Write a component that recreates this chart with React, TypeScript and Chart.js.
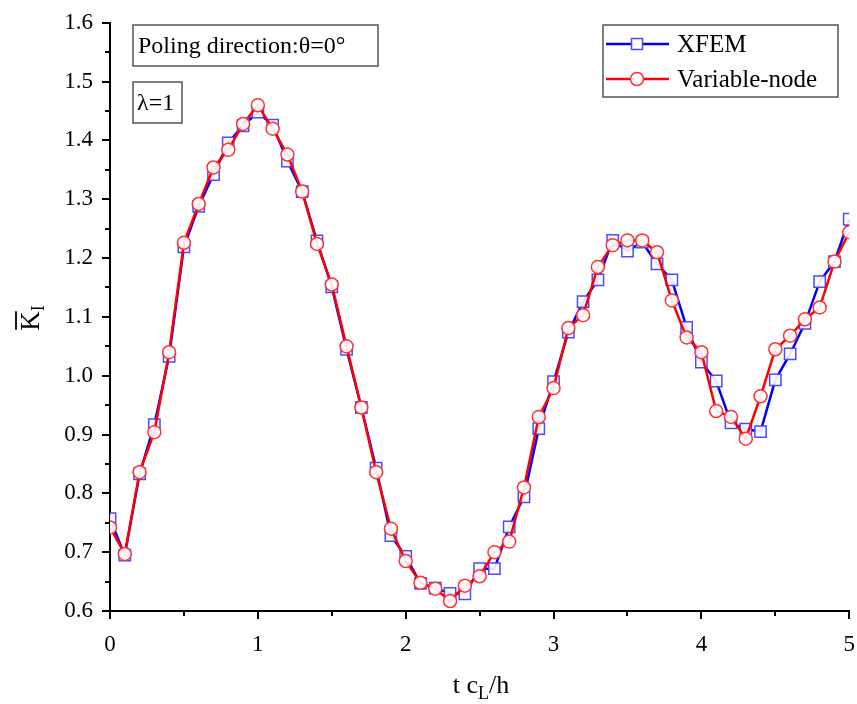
import React, { useEffect, useRef } from "react";
import { Chart, registerables } from "chart.js";

Chart.register(...registerables);

const tValues = [
  0, 0.1, 0.2, 0.3, 0.4, 0.5, 0.6, 0.7, 0.8, 0.9,
  1.0, 1.1, 1.2, 1.3, 1.4, 1.5, 1.6, 1.7, 1.8, 1.9,
  2.0, 2.1, 2.2, 2.3, 2.4, 2.5, 2.6, 2.7, 2.8, 2.9,
  3.0, 3.1, 3.2, 3.3, 3.4, 3.5, 3.6, 3.7, 3.8, 3.9,
  4.0, 4.1, 4.2, 4.3, 4.4, 4.5, 4.6, 4.7, 4.8, 4.9, 5.0,
];

const xfemValues = [
  0.757, 0.695, 0.833, 0.917, 1.033, 1.219, 1.288, 1.342, 1.396, 1.425,
  1.448, 1.426, 1.365, 1.313, 1.229, 1.151, 1.045, 0.946, 0.843, 0.728,
  0.693, 0.647, 0.639, 0.630, 0.629, 0.672, 0.672, 0.743, 0.794, 0.910,
  0.990, 1.074, 1.126, 1.163, 1.230, 1.212, 1.227, 1.190, 1.163, 1.082,
  1.023, 0.991, 0.920, 0.909, 0.905, 0.993, 1.037, 1.089, 1.160, 1.194, 1.266,
];

const variableNodeValues = [
  0.742, 0.697, 0.836, 0.904, 1.040, 1.226, 1.292, 1.354, 1.384, 1.428,
  1.460, 1.420, 1.376, 1.313, 1.224, 1.155, 1.050, 0.946, 0.836, 0.740,
  0.685, 0.648, 0.638, 0.617, 0.643, 0.659, 0.700, 0.718, 0.810, 0.930,
  0.979, 1.081, 1.103, 1.185, 1.222, 1.230, 1.230, 1.210, 1.128, 1.065,
  1.040, 0.940, 0.930, 0.893, 0.965, 1.045, 1.068, 1.096, 1.116, 1.194, 1.244,
];

const xTickValues = [0, 1, 2, 3, 4, 5];
const yTickValues = [0.6, 0.7, 0.8, 0.9, 1.0, 1.1, 1.2, 1.3, 1.4, 1.5, 1.6];
const xMinorTicks = [0.5, 1.5, 2.5, 3.5, 4.5];
const yMinorTicks = [0.65, 0.75, 0.85, 0.95, 1.05, 1.15, 1.25, 1.35, 1.45, 1.55];

const seriesNames = ["XFEM", "Variable-node"];
const annotationTexts = ["Poling direction:θ=0°", "λ=1"];

const BLUE = "#0000ff";
const BLUE_MARK = "#4a4aff";
const RED = "#ff0000";
const RED_MARK = "#ff3333";
const SERIF = "'Liberation Serif', 'DejaVu Serif', serif";

const decorPlugin = {
  id: "decor",
  afterDraw(chart: any) {
    const ctx = chart.ctx as CanvasRenderingContext2D;
    const area = chart.chartArea;
    const xs = chart.scales.x;
    const ys = chart.scales.y;
    ctx.save();
    // minor ticks
    ctx.strokeStyle = "#000";
    ctx.lineWidth = 2;
    ctx.beginPath();
    yMinorTicks.forEach((v) => {
      const py = Math.round(ys.getPixelForValue(v));
      ctx.moveTo(area.left - 5, py);
      ctx.lineTo(area.left, py);
    });
    xMinorTicks.forEach((v) => {
      const px = Math.round(xs.getPixelForValue(v));
      ctx.moveTo(px, area.bottom);
      ctx.lineTo(px, area.bottom + 5);
    });
    ctx.stroke();

    // annotation boxes
    ctx.strokeStyle = "#555";
    ctx.lineWidth = 1.5;
    ctx.fillStyle = "#000";
    ctx.textBaseline = "middle";
    ctx.textAlign = "left";
    ctx.font = `24px ${SERIF}`;
    ctx.strokeRect(133, 25, 245, 41);
    ctx.fillText(annotationTexts[0], 138, 47);
    ctx.strokeRect(133, 82, 49, 41);
    ctx.fillText(annotationTexts[1], 137, 104);

    // legend
    ctx.strokeRect(603, 25, 235, 72);
    const rows = [
      { y: 44, color: BLUE, mark: BLUE_MARK, shape: "rect" },
      { y: 79, color: RED, mark: RED_MARK, shape: "circle" },
    ];
    rows.forEach((r, i) => {
      ctx.strokeStyle = r.color;
      ctx.lineWidth = 2.5;
      ctx.beginPath();
      ctx.moveTo(606, r.y);
      ctx.lineTo(669, r.y);
      ctx.stroke();
      ctx.fillStyle = "#fff";
      ctx.strokeStyle = r.mark;
      ctx.lineWidth = 1.5;
      ctx.beginPath();
      if (r.shape === "rect") {
        ctx.rect(631.5, r.y - 5.5, 11, 11);
      } else {
        ctx.arc(637, r.y, 6.5, 0, Math.PI * 2);
      }
      ctx.fill();
      ctx.stroke();
      ctx.fillStyle = "#000";
      ctx.font = `25px ${SERIF}`;
      ctx.fillText(seriesNames[i], 677, r.y + 1);
    });

    // x title: t c_L/h
    ctx.fillStyle = "#000";
    ctx.textBaseline = "alphabetic";
    const big = `26px ${SERIF}`;
    const small = `18px ${SERIF}`;
    const parts = [
      { t: "t c", f: big, dy: 0 },
      { t: "L", f: small, dy: 6 },
      { t: "/h", f: big, dy: 0 },
    ];
    let total = 0;
    parts.forEach((p) => {
      ctx.font = p.f;
      total += ctx.measureText(p.t).width;
    });
    let cx = 481 - total / 2;
    const baseY = 693;
    parts.forEach((p) => {
      ctx.font = p.f;
      ctx.fillText(p.t, cx, baseY + p.dy);
      cx += ctx.measureText(p.t).width;
    });

    // y title: K-bar with subscript I, rotated
    ctx.save();
    ctx.translate(39, 318);
    ctx.rotate(-Math.PI / 2);
    ctx.font = `27px ${SERIF}`;
    const kw = ctx.measureText("K").width;
    ctx.font = `18px ${SERIF}`;
    const iw = ctx.measureText("I").width;
    const start = -(kw + iw) / 2;
    ctx.font = `27px ${SERIF}`;
    ctx.fillText("K", start, 0);
    ctx.strokeStyle = "#000";
    ctx.lineWidth = 1.8;
    ctx.beginPath();
    ctx.moveTo(start + 1, -23);
    ctx.lineTo(start + kw, -23);
    ctx.stroke();
    ctx.font = `18px ${SERIF}`;
    ctx.fillText("I", start + kw, 5);
    ctx.restore();

    ctx.restore();
  },
};

export default function App() {
  const ref = useRef<HTMLCanvasElement | null>(null);

  useEffect(() => {
    document.body.style.margin = "0";
    const canvas = ref.current;
    if (!canvas) return;
    const xfemData = tValues.map((t, i) => ({ x: t, y: xfemValues[i] }));
    const vnData = tValues.map((t, i) => ({ x: t, y: variableNodeValues[i] }));
    const chart = new Chart(canvas, {
      type: "line",
      data: {
        datasets: [
          {
            label: seriesNames[0],
            data: xfemData,
            borderColor: BLUE,
            borderWidth: 2.5,
            pointStyle: "rect",
            pointRadius: 8,
            pointBorderColor: BLUE_MARK,
            pointBackgroundColor: "rgba(255,255,255,0.9)",
            pointBorderWidth: 1.5,
            tension: 0,
            order: 1,
          },
          {
            label: seriesNames[1],
            data: vnData,
            borderColor: RED,
            borderWidth: 2.5,
            pointStyle: "circle",
            pointRadius: 6.5,
            pointBorderColor: RED_MARK,
            pointBackgroundColor: "rgba(255,255,255,0.9)",
            pointBorderWidth: 1.5,
            tension: 0,
            order: 0,
          },
        ],
      },
      options: {
        animation: false,
        responsive: false,
        maintainAspectRatio: false,
        layout: { padding: { left: 0, right: 9, top: 18, bottom: 0 } },
        plugins: {
          legend: { display: false },
          tooltip: { enabled: false },
        },
        scales: {
          x: {
            type: "linear",
            min: 0,
            max: 5,
            afterBuildTicks: (axis: any) => {
              axis.ticks = xTickValues.map((v) => ({ value: v }));
            },
            afterFit: (axis: any) => {
              axis.height = 93;
            },
            ticks: {
              color: "#000",
              font: { family: SERIF, size: 23 },
              padding: 12,
              callback: (v: any) => String(v),
            },
            grid: {
              display: true,
              drawOnChartArea: false,
              drawTicks: true,
              tickLength: 8,
              color: "#000",
              lineWidth: 2,
            },
            border: { display: true, color: "#000", width: 2 },
          },
          y: {
            type: "linear",
            min: 0.6,
            max: 1.6,
            afterBuildTicks: (axis: any) => {
              axis.ticks = yTickValues.map((v) => ({ value: v }));
            },
            afterFit: (axis: any) => {
              axis.width = 110;
            },
            ticks: {
              color: "#000",
              font: { family: SERIF, size: 23 },
              padding: 9,
              callback: (v: any) => Number(v).toFixed(1),
            },
            grid: {
              display: true,
              drawOnChartArea: false,
              drawTicks: true,
              tickLength: 8,
              color: "#000",
              lineWidth: 2,
            },
            border: { display: true, color: "#000", width: 2 },
          },
        },
      },
      plugins: [decorPlugin],
    } as any);
    return () => chart.destroy();
  }, []);

  return (
    <div style={{ width: 857, height: 704, overflow: "hidden", background: "#fff" }}>
      <canvas ref={ref} width={867} height={704} style={{ display: "block" }} />
    </div>
  );
}
